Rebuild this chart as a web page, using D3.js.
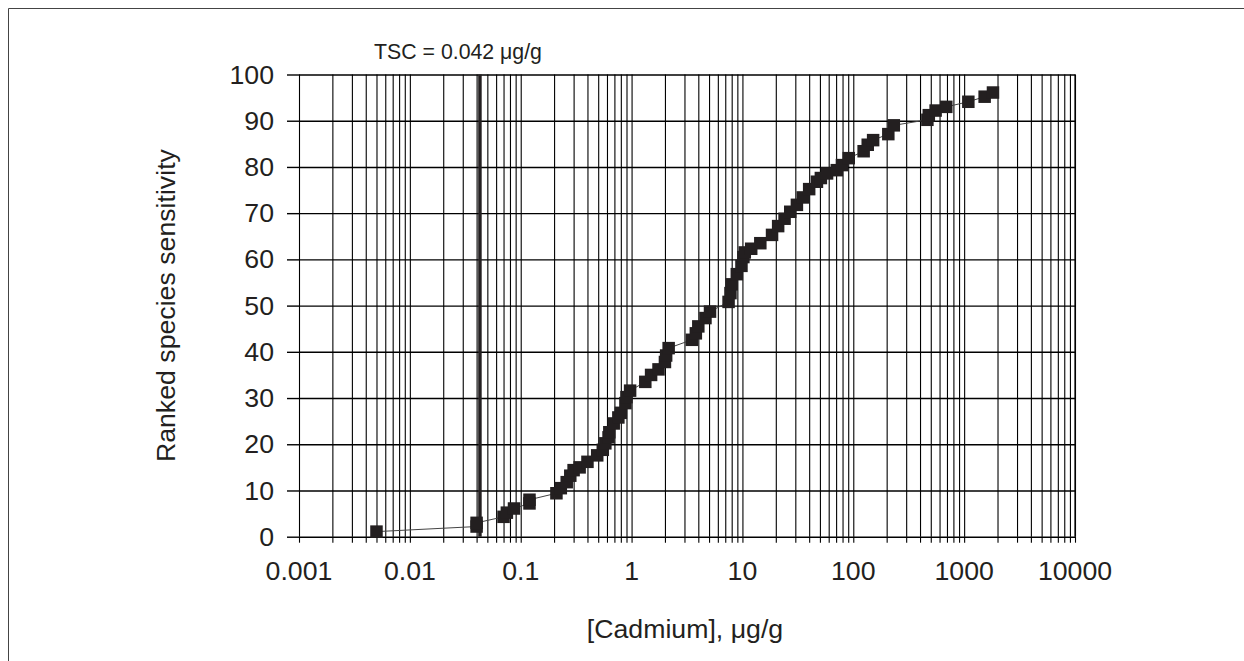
<!DOCTYPE html>
<html>
<head>
<meta charset="utf-8">
<script src="https://cdn.jsdelivr.net/npm/d3@7"></script>
<style>
  body { margin: 0; background: #fff; }
  svg { display: block; font-family: "Liberation Sans", Arial, sans-serif; }
</style>
</head>
<body>
<div id="chart"></div>
<script>
// Cadmium concentrations (ug/g) and ranked species sensitivity (%)
const cadmium = [
  0.005, 0.04, 0.04, 0.07, 0.075, 0.087, 0.12, 0.12, 0.21, 0.23,
  0.26, 0.28, 0.3, 0.34, 0.4, 0.49, 0.55, 0.58, 0.62, 0.63,
  0.69, 0.76, 0.8, 0.88, 0.9, 0.97, 1.33, 1.5, 1.75, 2.0,
  2.05, 2.16, 3.5, 3.8, 4.0, 4.64, 5.1, 7.5, 7.8, 8.0,
  8.9, 9.8, 10.2, 10.5, 12, 14.5, 18.5, 21, 24, 27,
  31, 35, 40, 47, 51, 58, 71, 79, 91, 124,
  135, 151, 207, 232, 466, 480, 553, 690, 1091, 1531, 1820
];
const ranked = [
  1.1, 2.2, 3.0, 4.3, 5.2, 6.1, 7.2, 8.0, 9.4, 10.5,
  11.8, 13.2, 14.4, 15.0, 16.2, 17.6, 18.8, 20.2, 21.5, 22.6,
  24.5, 25.8, 26.8, 28.9, 30.2, 31.6, 33.5, 35.0, 36.2, 37.8,
  39.2, 40.8, 42.6, 44.0, 45.5, 47.3, 48.7, 50.8, 52.7, 54.6,
  56.8, 58.6, 60.5, 61.5, 62.3, 63.5, 65.3, 67.2, 68.8, 70.3,
  71.8, 73.4, 75.2, 76.8, 77.6, 78.6, 79.3, 80.4, 81.9, 83.4,
  84.8, 85.8, 87.1, 89.0, 90.2, 91.2, 92.2, 93.0, 94.1, 95.2, 96.1
];
const xTickLabels = ["0.001", "0.01", "0.1", "1", "10", "100", "1000", "10000"];
const yTicks = [0, 10, 20, 30, 40, 50, 60, 70, 80, 90, 100];
const tsc = 0.042;

const width = 1244;
const height = 661;
const marginLeft = 299;
const marginRight = 169;
const marginTop = 74.5;
const marginBottom = 124.3;

const x = d3.scaleLog([0.001, 10000], [marginLeft, width - marginRight]);
const y = d3.scaleLinear([0, 100], [height - marginBottom, marginTop]);

const svg = d3.select("#chart").append("svg")
    .attr("width", width)
    .attr("height", height)
    .attr("viewBox", [0, 0, width, height]);

// outer frame (top and left edges)
svg.append("path")
    .attr("d", `M8.5,${height}V8.5H${width}`)
    .attr("fill", "none")
    .attr("stroke", "#444")
    .attr("stroke-width", 1);

// all log ticks 1..9 per decade
const allTicks = [];
for (let e = -3; e < 4; e++) {
  for (let m = 1; m < 10; m++) allTicks.push(m * Math.pow(10, e));
}
allTicks.push(10000);

// x-axis with vertical grid lines
svg.append("g")
    .attr("transform", `translate(0,${height - marginBottom})`)
    .call(d3.axisBottom(x).tickValues(allTicks).tickFormat(() => "")
        .tickSize(6).tickSizeOuter(0))
    .call(g => g.select(".domain").remove())
    .call(g => g.selectAll(".tick line").clone()
        .attr("y1", 0)
        .attr("y2", -(height - marginBottom - marginTop)))
    .call(g => g.selectAll(".tick line").attr("stroke", "#000").attr("stroke-width", 1.1));

// x tick labels
svg.append("g")
    .selectAll("text")
    .data(xTickLabels)
    .join("text")
    .attr("x", d => x(+d))
    .attr("y", 580)
    .attr("text-anchor", "middle")
    .attr("font-size", 26.7)
    .attr("fill", "#231f20")
    .text(d => d);

// y-axis with horizontal grid lines
svg.append("g")
    .attr("transform", `translate(${marginLeft},0)`)
    .call(d3.axisLeft(y).tickValues(yTicks).tickSize(12).tickPadding(13))
    .call(g => g.select(".domain").remove())
    .call(g => g.selectAll(".tick line").clone()
        .attr("x1", 0)
        .attr("x2", width - marginLeft - marginRight))
    .call(g => g.selectAll(".tick line").attr("stroke", "#000").attr("stroke-width", 1.4))
    .call(g => g.selectAll(".tick text")
        .attr("font-size", 26.7)
        .attr("font-family", "Liberation Sans, Arial, sans-serif")
        .attr("fill", "#231f20"));

// right border
svg.append("line")
    .attr("x1", x(10000)).attr("x2", x(10000))
    .attr("y1", y(0)).attr("y2", y(100))
    .attr("stroke", "#000")
    .attr("stroke-width", 1.2);

// TSC line
svg.append("line")
    .attr("x1", x(tsc) + 1).attr("x2", x(tsc) + 1)
    .attr("y1", y(0)).attr("y2", y(100))
    .attr("stroke", "#231f20")
    .attr("stroke-width", 3.5);

svg.append("text")
    .attr("x", 458)
    .attr("y", 59)
    .attr("text-anchor", "middle")
    .attr("font-size", 21.3)
    .attr("fill", "#231f20")
    .text("TSC = 0.042 \u03bcg/g");

// data line and markers
const points = d3.zip(cadmium, ranked);
const line = d3.line()
    .x(d => x(d[0]))
    .y(d => y(d[1]));

svg.append("path")
    .attr("d", line(points))
    .attr("fill", "none")
    .attr("stroke", "#444")
    .attr("stroke-width", 1);

const size = 12.5;
svg.append("g")
    .selectAll("rect")
    .data(points)
    .join("rect")
    .attr("x", d => x(d[0]) - size / 2)
    .attr("y", d => y(d[1]) - size / 2)
    .attr("width", size)
    .attr("height", size)
    .attr("fill", "#231f20");

// axis titles
svg.append("text")
    .attr("x", (marginLeft + width - marginRight) / 2 - 2)
    .attr("y", 638)
    .attr("text-anchor", "middle")
    .attr("font-size", 26.7)
    .attr("fill", "#231f20")
    .text("[Cadmium], \u03bcg/g");

svg.append("text")
    .attr("transform", `translate(175,${(marginTop + height - marginBottom) / 2}) rotate(-90)`)
    .attr("text-anchor", "middle")
    .attr("font-size", 26.7)
    .attr("fill", "#231f20")
    .text("Ranked species sensitivity");
</script>
</body>
</html>
